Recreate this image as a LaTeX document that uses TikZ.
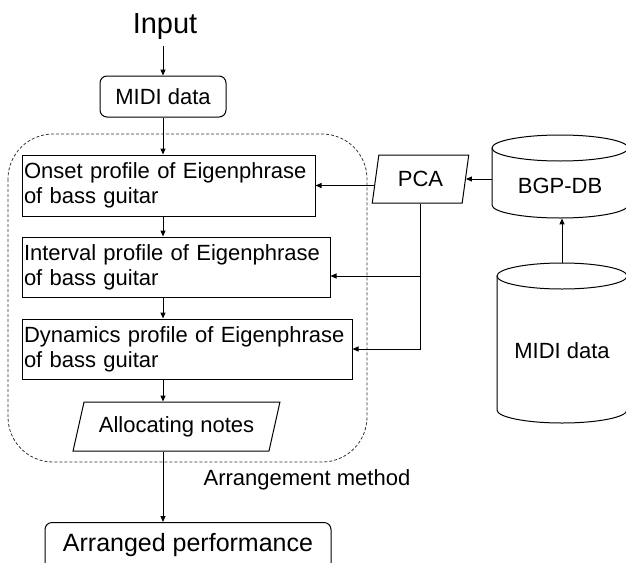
\documentclass[tikz,border=0pt]{standalone}
\usepackage{fontspec}
\setmainfont{Liberation Sans}
\usetikzlibrary{arrows.meta,shapes.geometric,calc}
\begin{document}
\begin{tikzpicture}[x=1pt,y=-1pt,
  every node/.style={font=\fontsize{22}{25}\selectfont},
  line/.style={line width=1pt},
  arr/.style={line width=1pt,-{Triangle[length=6pt,width=5pt]}},
  profile/.style={draw,line width=1pt,rectangle,inner xsep=2pt,inner ysep=0pt,align=left},
  terminal/.style={draw,line width=1pt,rounded corners=7pt,inner sep=0pt},
  io/.style={draw,line width=1pt,trapezium,trapezium stretches=true,inner sep=0pt},
  group/.style={draw=black!80,line width=0.8pt,dash pattern=on 3pt off 2pt,rounded corners=45pt},
  dblabel/.style={inner sep=0pt,anchor=north}
]
\useasboundingbox (0,0) rectangle (626,562);

% method group
\draw[group] (8,134) rectangle (367,462);

% main flow
\node[anchor=base,inner xsep=0pt,inner ysep=7pt,font=\fontsize{29}{34}\selectfont] (input) at (165,33) {Input};
\node[terminal,minimum width=126pt,minimum height=41pt] (midi) at (163,96.5) {MIDI data};
\node[profile,text width=289pt,minimum height=61pt] (onset) at (168.5,185.5) {Onset profile of Eigenphrase\\of bass guitar};
\node[profile,text width=304pt,minimum height=60pt] (interval) at (176,267) {Interval profile of Eigenphrase\\of bass guitar};
\node[profile,text width=326pt,minimum height=60pt] (dynamics) at (187,349) {Dynamics profile of Eigenphrase\\of bass guitar};
\node[io,trapezium left angle=65.8,trapezium right angle=114.2,minimum width=207pt,minimum height=49pt] (alloc) at (176.5,426.5) {Allocating notes};
\node[terminal,anchor=north,minimum width=286pt,text height=29pt,text depth=22pt,font=\fontsize{25}{30}\selectfont] (arranged) at (188,522) {Arranged performance};
\node[anchor=base] (method) at (307,485) {Arrangement method};

% PCA
\node[io,trapezium left angle=77.1,trapezium right angle=102.9,minimum width=97pt,minimum height=48pt] (pca) at (420.5,179) {PCA};

% BGP-DB cylinder
\draw[line] (492,148) -- (492,205) arc[start angle=180,end angle=0,x radius=68,y radius=13] -- (628,148);
\draw[line] (560,148) ellipse[x radius=68,y radius=13];
\node[dblabel,minimum width=136pt,text height=58pt,text depth=25pt] (bgp) at (560,135) {BGP-DB};

% MIDI data cylinder
\draw[line] (497,276) -- (497,410) arc[start angle=180,end angle=0,x radius=65,y radius=13] -- (627,276);
\draw[line] (562,276) ellipse[x radius=65,y radius=13];
\node[dblabel,minimum width=130pt,text height=95pt,text depth=65pt] (mididb) at (562,263) {MIDI data};

% connectors
\draw[arr] (input.south -| midi.north) -- (midi.north);
\draw[arr] (midi.south) -- (onset.north -| midi.south);
\draw[arr] (onset.south -| midi.south) -- (interval.north -| midi.south);
\draw[arr] (interval.south -| midi.south) -- (dynamics.north -| midi.south);
\draw[arr] (dynamics.south -| midi.south) -- (alloc.north -| midi.south);
\draw[arr] (alloc.south -| midi.south) -- (arranged.north -| midi.south);

\draw[arr] (pca.west |- onset.east) -- (onset.east);
\coordinate (ib) at ($(interval.east)+(0,9)$);
\draw[arr] (pca.south |- ib) -- (ib);
\draw[arr] (pca.south) |- (dynamics.east);

\draw[arr] (bgp.west |- pca.east) -- (pca.east);
\draw[arr] (mididb.north) -- (bgp.south -| mididb.north);
\end{tikzpicture}
\end{document}
